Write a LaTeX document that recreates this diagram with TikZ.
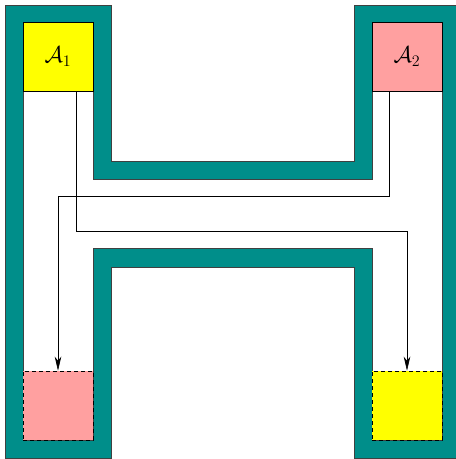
\RequirePackage{fix-cm}
\documentclass[tikz,border=0pt]{standalone}
\usetikzlibrary{arrows.meta}
\definecolor{hteal}{RGB}{0,142,138}
\definecolor{hpink}{RGB}{255,160,160}
\definecolor{hyellow}{RGB}{255,255,0}
\begin{document}
\begin{tikzpicture}[x=1pt,y=-1pt,
  room/.style={draw=black!75,line width=0.6pt,fill=hteal,even odd rule},
  cell/.style={draw=black,line width=0.6pt,minimum width=70pt,minimum height=69pt,inner sep=0pt,
     font=\fontsize{23pt}{27pt}\selectfont},
  target/.style={cell,dashed,dash pattern=on 4pt off 3pt},
  flow/.style={draw=black,line width=0.7pt,-{Stealth[length=14pt,width=6.5pt,inset=4pt]}}]
\useasboundingbox (0,0) rectangle (456,459);
\clip (0,0) rectangle (456,459);
% H-shaped wall
\path[room]
  (5,5) -- (111,5) -- (111,161) -- (354,161) -- (354,5) -- (460,5) -- (460,458)
  -- (354,458) -- (354,267) -- (111,267) -- (111,458) -- (5,458) -- cycle
  (23,22) -- (93,22) -- (93,179) -- (372,179) -- (372,22) -- (442,22) -- (442,440)
  -- (372,440) -- (372,248) -- (93,248) -- (93,440) -- (23,440) -- cycle;
% cells
\node[cell,fill=hyellow] (A1) at (58,56.5) {$\mathcal{A}_1$};
\node[cell,fill=hpink] (A2) at (407,56.5) {$\mathcal{A}_2$};
\node[target,fill=hpink] (B1) at (58,405.5) {};
\node[target,fill=hyellow] (B2) at (407,405.5) {};
% corridor levels
\coordinate (k1) at (0,231);
\coordinate (k2) at (0,196);
% connectors
\draw[flow] ([xshift=18pt]A1.south) |- (k1 -| B2.north) -- (B2.north);
\draw[flow] ([xshift=-18pt]A2.south) |- (k2 -| B1.north) -- (B1.north);
\end{tikzpicture}
\end{document}
